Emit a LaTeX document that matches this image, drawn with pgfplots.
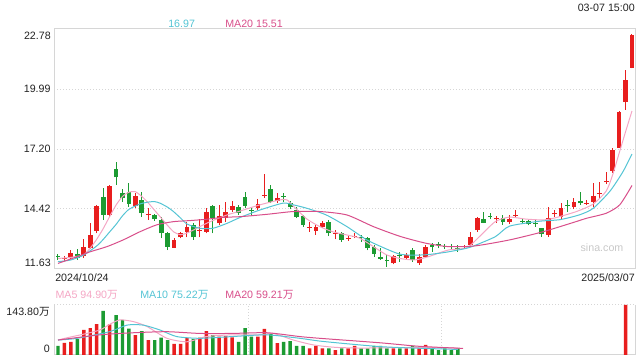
\documentclass[border=0pt]{standalone}
\usepackage{pgfplots}
\pgfplotsset{compat=1.18}
\usepackage{pgfplotstable}
\usepackage{fontspec}
\setmainfont{Liberation Sans}
\newfontfamily\cjk{Noto Sans CJK SC}
\definecolor{upred}{RGB}{232,30,30}
\definecolor{dngreen}{RGB}{28,155,50}
\definecolor{maf}{RGB}{244,166,196}
\definecolor{mat}{RGB}{84,196,212}
\definecolor{mag}{RGB}{216,78,138}
\definecolor{framec}{RGB}{214,214,214}
\definecolor{txt}{RGB}{34,34,34}

% rising candles
\pgfplotstableread{
i o h l c
1 12.12 12.23 12.02 12.16
2 12.17 12.51 12.08 12.36
4 12.23 13.01 12.13 12.67
5 12.59 13.75 12.55 13.21
6 13.40 14.62 13.29 14.56
8 14.14 15.52 14.05 15.49
12 14.57 15.18 14.45 15.04
14 14.13 14.45 13.91 14.19
18 12.62 13.05 12.60 12.98
19 13.10 13.36 13.05 13.32
20 13.36 13.83 13.10 13.57
22 13.41 13.94 13.10 13.45
23 13.36 14.45 13.29 14.30
25 13.75 14.61 13.68 14.09
26 13.99 14.76 13.83 14.30
27 14.37 14.81 14.30 14.56
31 14.45 14.87 14.37 14.64
32 15.03 16.05 14.95 15.07
34 14.79 15.15 14.69 14.92
39 13.55 13.83 13.36 13.59
40 13.41 13.68 13.21 13.57
41 13.60 13.86 13.52 13.75
43 13.27 13.44 13.01 13.31
45 13.04 13.20 12.95 13.08
46 13.14 13.30 13.05 13.18
52 11.89 12.30 11.85 12.23
54 12.13 12.39 12.05 12.28
56 11.89 12.33 11.82 12.17
57 12.17 12.75 12.13 12.64
63 12.65 12.75 12.60 12.69
64 12.75 13.36 12.67 13.10
65 13.44 14.06 13.36 13.99
68 13.94 14.09 13.78 13.98
70 13.83 14.14 13.72 13.96
71 14.10 14.35 14.00 14.14
76 13.21 14.53 13.13 14.02
77 14.17 14.37 14.06 14.21
78 14.06 14.69 13.96 14.45
80 14.53 14.92 14.42 14.73
82 14.66 14.84 14.61 14.70
83 14.76 15.62 14.53 15.04
84 15.13 15.69 14.92 15.17
85 15.67 16.15 15.57 15.71
86 16.20 17.25 16.10 17.16
87 17.27 18.95 17.25 18.92
88 19.38 20.88 19.02 20.42
89 20.99 22.55 20.95 22.48
}\redc

% falling candles
\pgfplotstableread{
i o h l c
0 12.22 12.33 12.05 12.19
3 12.31 12.55 12.05 12.16
7 14.99 15.41 13.91 14.14
9 16.27 16.62 15.54 15.89
10 15.18 15.34 14.76 14.95
11 15.20 15.62 14.53 14.65
13 14.84 15.22 14.06 14.22
15 14.14 14.20 13.88 13.94
16 13.91 14.06 13.06 13.29
17 13.29 13.36 12.51 12.67
21 13.68 13.78 12.98 13.10
24 14.56 14.61 13.29 13.99
28 14.50 14.61 14.14 14.22
29 14.96 15.22 14.45 14.56
30 14.36 14.53 14.09 14.32
33 15.34 15.54 14.69 14.76
35 15.01 15.15 14.76 14.97
36 14.71 14.80 14.40 14.50
37 14.37 14.50 13.99 14.06
38 14.11 14.15 13.60 13.68
42 13.83 13.91 13.16 13.29
44 13.29 13.36 12.90 12.98
47 13.12 13.21 12.90 13.08
48 13.06 13.10 12.50 12.59
49 12.67 12.75 12.20 12.33
50 12.20 12.59 12.05 12.10
51 12.07 12.28 11.74 12.03
53 12.30 12.43 11.97 12.26
55 12.51 12.59 11.97 12.05
58 12.75 12.83 12.43 12.64
59 12.77 12.90 12.59 12.73
60 12.69 12.80 12.55 12.65
61 12.69 12.80 12.55 12.65
62 12.61 12.75 12.43 12.57
66 13.94 14.30 13.76 13.78
67 14.11 14.25 13.94 14.07
69 13.99 14.14 13.68 13.83
72 13.85 14.00 13.72 13.81
73 13.86 13.92 13.66 13.71
74 13.77 13.90 13.60 13.73
75 13.52 13.55 13.13 13.24
79 14.59 14.84 14.30 14.55
81 14.79 15.22 14.61 14.68
}\greenc

% volume (10k shares), rising days
\pgfplotstableread{
i v
1 35
2 38
4 72
5 77
6 89
8 88
12 57
14 43
18 32
19 32
20 49
22 50
23 69
25 53
26 55
27 51
31 53
32 75
34 34
39 19
40 26
41 19
43 14
45 19
46 26
52 19
54 19
56 19
57 29
88 143.8
}\redv

% volume, falling days
\pgfplotstableread{
i v
0 26
3 46
7 127
9 115
10 101
11 76
13 69
15 43
16 50
17 43
21 46
24 57
28 38
29 77
30 53
33 62
35 38
36 40
37 26
38 26
42 19
44 19
47 19
48 19
49 26
50 26
51 19
53 19
55 26
58 19
59 14
60 19
61 14
62 19
}\greenv

\tikzset{lbl/.style={font=\fontsize{8}{9.6}\selectfont, inner sep=0pt}}

\begin{document}
\begin{tikzpicture}
\path[use as bounding box] (0pt,0pt) rectangle (480pt,270pt);

% ---------------- price panel ----------------
\begin{axis}[
  at={(40.5pt,68.25pt)}, anchor=south west,
  scale only axis, width=435.75pt, height=180pt,
  xmin=-0.62, xmax=89.47, ymin=11.63, ymax=22.78,
  axis line style={framec, line width=0.75pt},
  xtick=\empty,
  ytick={14.42,17.20,19.99},
  yticklabels={14.42,17.20,19.99},
  ymajorgrids,
  grid style={framec, dash pattern=on 0.75pt off 1.5pt, line width=0.75pt},
  major tick length=0pt,
  yticklabel style={font=\fontsize{8}{9.6}\selectfont, text=txt, inner sep=0pt, xshift=-2.4pt},
  /pgf/number format/assume math mode=true,
]
% wicks
\addplot[draw=upred, line width=0.75pt, quiver={u=0, v=\thisrow{h}-\thisrow{l}}] table[x=i, y=l] {\redc};
\addplot[draw=dngreen, line width=0.75pt, quiver={u=0, v=\thisrow{h}-\thisrow{l}}] table[x=i, y=l] {\greenc};
% bodies
\addplot[draw=upred, line width=3.6pt, quiver={u=0, v=\thisrow{c}-\thisrow{o}}] table[x=i, y=o] {\redc};
\addplot[draw=dngreen, line width=3.6pt, quiver={u=0, v=\thisrow{o}-\thisrow{c}}] table[x=i, y=c] {\greenc};
% MA5
\addplot[maf, line width=0.75pt, smooth, tension=0.4] coordinates {
(0,12.12) (2,12.17) (4,12.30) (5,12.60) (6,13.01) (7,13.50) (8,14.06) (9,14.60) (10,15.00)
(11,15.20) (12,15.22) (13,15.00) (14,14.70) (15,14.35) (16,14.00) (17,13.65) (18,13.34)
(19,13.22) (20,13.30) (21,13.44) (22,13.60) (23.6,13.83) (26.2,14.14) (28,14.30) (31.3,14.61)
(34.4,14.84) (35.5,14.84) (36.5,14.55) (38.6,13.95) (40.6,13.60) (42.6,13.36) (44.8,13.21)
(46.8,13.06) (48.9,12.67) (51,12.28) (53,12.12) (55.3,12.05) (57.4,12.20) (60.5,12.51)
(63.4,12.62) (65.4,13.15) (67.8,13.83) (70,14.04) (72.5,13.95) (75.2,13.91) (77,14.00)
(80.4,14.30) (83,14.65) (85,15.25) (86,16.00) (87,17.00) (88,18.00) (89,18.97)};
% MA10
\addplot[mat, line width=0.75pt, smooth, tension=0.4] coordinates {
(0,11.97) (2,12.05) (4,12.28) (6,12.70) (7,13.00) (8,13.35) (9,13.70) (10,14.10) (11,14.40)
(12.7,14.65) (14,14.74) (15,14.76) (15.8,14.69) (17,14.50) (17.9,14.30) (19,14.00) (20,13.72)
(22,13.52) (24,13.52) (26.2,13.75) (28.2,14.02) (31.3,14.37) (34.9,14.69) (36.5,14.61)
(38.6,14.45) (41.6,14.14) (44.8,13.60) (47.9,12.98) (51,12.55) (53,12.32) (55,12.27)
(57.4,12.30) (60,12.40) (62,12.51) (64,12.65) (67.8,13.13) (70,13.62) (74.7,13.85)
(77.8,13.92) (80.9,14.15) (83,14.45) (85.6,15.25) (87.6,16.15) (89,16.97)};
% MA20
\addplot[mag, line width=0.75pt, smooth, tension=0.4] coordinates {
(0,11.89) (2.3,12.13) (5,12.43) (7.6,12.67) (10.1,12.98) (12.7,13.36) (15.3,13.68) (17.9,13.83)
(20.5,13.88) (23,13.94) (25.6,14.03) (28.2,14.06) (32.4,14.17) (36.5,14.30) (40.6,14.30)
(44.8,14.14) (48.9,13.60) (53,13.15) (57,12.83) (60.5,12.67) (64.6,12.70) (70,12.98)
(75.2,13.36) (80,13.80) (82,13.99) (85,14.22) (87.1,14.61) (89,15.51)};
\end{axis}

% ---------------- volume panel ----------------
\begin{axis}[
  at={(40.5pt,3.75pt)}, anchor=south west,
  scale only axis, width=435.75pt, height=37.5pt,
  xmin=-0.62, xmax=89.47, ymin=0, ymax=143.8,
  axis line style={draw=none},
  xtick={29.6,59.5}, xticklabels={}, xmajorgrids,
  ytick=\empty,
  grid style={framec, dash pattern=on 0.75pt off 1.5pt, line width=0.75pt},
  major tick length=0pt,
  clip=false,
]
\draw[framec, line width=0.75pt] (rel axis cs:0,0) -- (rel axis cs:0,1);
\draw[framec, line width=0.75pt] (rel axis cs:1,0) -- (rel axis cs:1,1);
\draw[framec, line width=0.75pt, dash pattern=on 0.75pt off 1.5pt] (rel axis cs:0,1) -- (rel axis cs:1,1);
\draw[framec, line width=0.75pt] (rel axis cs:0,0) -- (rel axis cs:1,0);
\addplot[ybar, bar width=2.6pt, bar shift=0pt, fill=upred, draw=none] table[x=i, y=v] {\redv};
\addplot[ybar, bar width=2.6pt, bar shift=0pt, fill=dngreen, draw=none] table[x=i, y=v] {\greenv};
\addplot[maf, line width=0.75pt, smooth, tension=0.4] coordinates {
(0,43) (1.5,50) (4,60) (6.5,72) (8,88) (9.6,101) (11.7,96) (13.8,82) (16.9,48) (20,38)
(23,53) (27,58) (31.3,58) (33.4,62) (36.5,43) (39.6,29) (43,22) (47,20) (52,21) (57,22) (62,20)};
\addplot[mat, line width=0.75pt, smooth, tension=0.4] coordinates {
(0,43) (3,48) (8,67) (10.7,86) (13.2,86) (15.8,72) (18.4,53) (22,48) (27,53) (32.4,58)
(37.5,48) (40.6,40) (45,32) (50,24) (55,20) (62,16)};
\addplot[mag, line width=0.75pt, smooth, tension=0.4] coordinates {
(0,43) (6.5,58) (11.7,64) (16.9,67) (22,62) (27,62) (32.4,64) (37.5,53) (40.6,48)
(50,35) (56,25) (62.8,19)};
\end{axis}

% ---------------- texts ----------------
\node[lbl, anchor=east, text=txt] at (38.25pt,243.4pt) {22.78};
\node[lbl, anchor=east, text=txt] at (38.25pt,72.75pt) {11.63};
\node[lbl, anchor=west, text=mat] at (126pt,251.8pt) {16.97};
\node[lbl, anchor=west, text=mag] at (168.75pt,251.8pt) {MA20 15.51};
\node[lbl, anchor=east, text=txt] at (476.25pt,264.3pt) {03-07 15:00};
\node[lbl, anchor=west, text=txt] at (41.25pt,62pt) {2024/10/24};
\node[lbl, anchor=east, text=txt] at (476.25pt,62pt) {2025/03/07};
\node[lbl, anchor=west, text=maf] at (41.5pt,49.1pt) {MA5 94.90{\cjk 万}};
\node[lbl, anchor=west, text=mat] at (105pt,49.1pt) {MA10 75.22{\cjk 万}};
\node[lbl, anchor=west, text=mag] at (168.75pt,49.1pt) {MA20 59.21{\cjk 万}};
\node[lbl, anchor=east, text=txt] at (37.5pt,36pt) {143.80{\cjk 万}};
\node[lbl, anchor=east, text=txt] at (37.5pt,8.25pt) {0};
\node[lbl, anchor=center, text={rgb,255:red,200;green,200;blue,200}] at (451.5pt,84pt) {sina.com};
\end{tikzpicture}
\end{document}
